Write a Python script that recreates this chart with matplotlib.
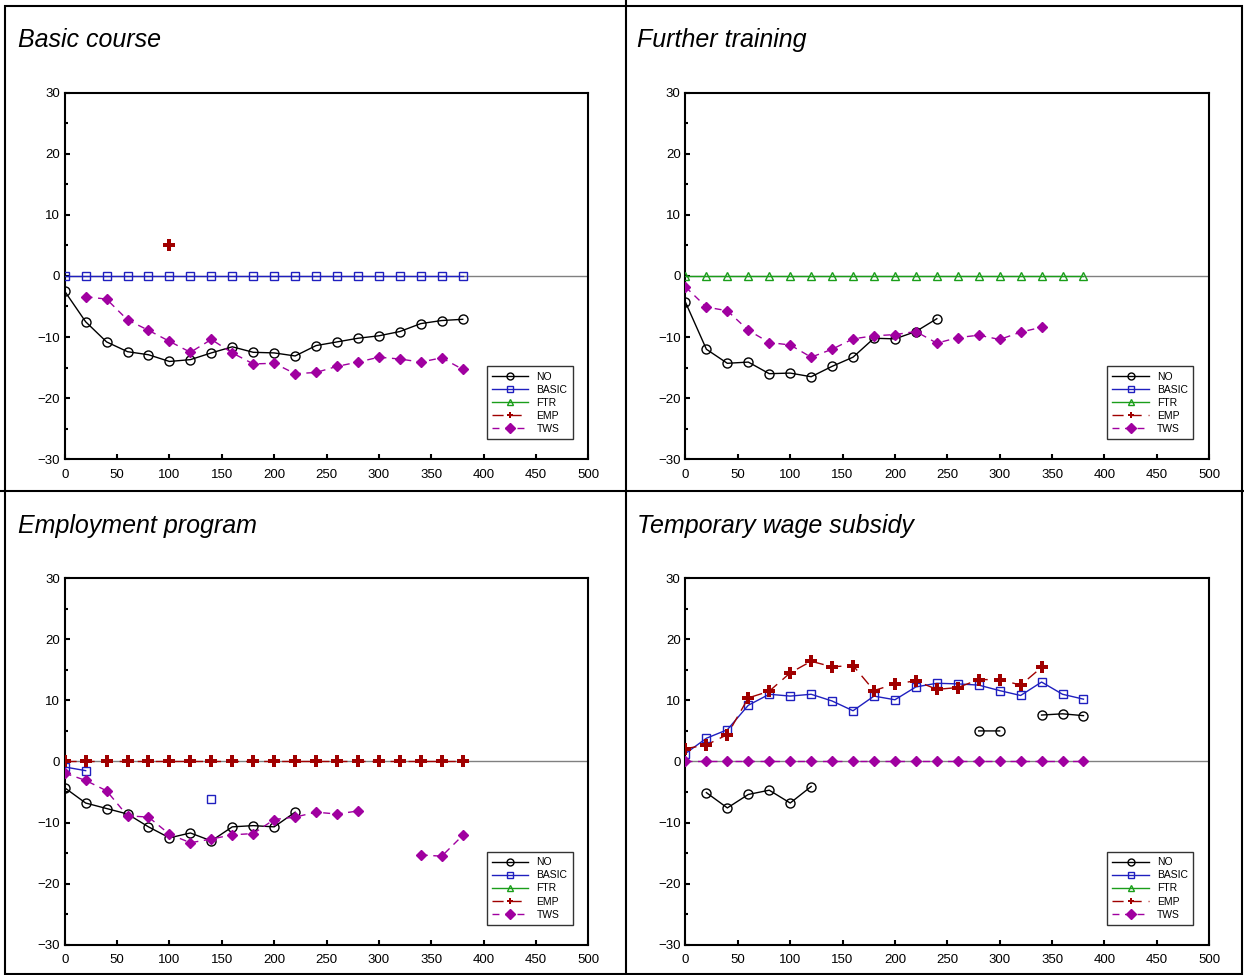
import matplotlib.pyplot as plt
import numpy as np
from matplotlib.lines import Line2D
from matplotlib.ticker import MultipleLocator

plt.rcParams['font.family'] = ['Liberation Sans', 'DejaVu Sans']

n = np.nan
x = np.arange(0, 400, 20)
titles = ['Basic course', 'Further training', 'Employment program', 'Temporary wage subsidy']
zeros = [0] * 20

basic_no = [-2.5, -7.5, -10.8, -12.4, -12.9, -14.0, -13.7, -12.6, -11.6, -12.5,
            -12.6, -13.1, -11.4, -10.8, -10.2, -9.8, -9.1, -7.8, -7.3, -7.1]
basic_tws = [n, -3.4, -3.8, -7.2, -8.9, -10.7, -12.5, -10.4, -12.6, -14.4,
             -14.3, -16.0, -15.8, -14.8, -14.1, -13.3, -13.6, -14.1, -13.4, -15.3]
basic_emp = [n, n, n, n, n, 5.0] + [n] * 14

ftr_no = [-4.3, -12.0, -14.3, -14.1, -16.0, -15.9, -16.5, -14.8, -13.3, -10.2,
          -10.3, -9.1, -7.0] + [n] * 7
ftr_tws = [-1.8, -5.1, -5.7, -8.9, -10.9, -11.3, -13.3, -12.0, -10.3, -9.8,
           -9.6, -9.1, -11.0, -10.1, -9.7, -10.4, -9.2, -8.4, n, n]

emp_no = [-4.3, -6.8, -7.7, -8.6, -10.7, -12.5, -11.7, -13.0, -10.7, -10.5,
          -10.7, -8.3] + [n] * 8
emp_basic = [-0.9, -1.5, n, n, n, n, n, -6.1] + [n] * 12
emp_tws = [-1.9, -3.1, -4.8, -8.9, -9.1, -11.9, -13.3, -12.7, -12.0, -11.8,
           -9.5, -9.1, -8.3, -8.6, -8.1, n, n, -15.3, -15.5, -12.1]

tws_no = [n, -5.1, -7.6, -5.4, -4.7, -6.8, -4.1, n, n, n,
          n, n, n, n, 5.0, 5.0, n, 7.6, 7.8, 7.5]
tws_basic = [1.3, 3.8, 5.2, 9.2, 11.0, 10.7, 11.0, 9.9, 8.3, 10.7,
             10.1, 12.2, 12.8, 12.7, 12.5, 11.6, 10.8, 13.0, 11.0, 10.2]
tws_emp = [2.1, 2.7, 4.4, 10.4, 11.5, 14.5, 16.4, 15.5, 15.7, 11.6,
           12.7, 13.2, 11.8, 12.1, 13.4, 13.4, 12.5, 15.4, n, n]

panels = [
    {'NO': basic_no, 'BASIC': zeros, 'EMP': basic_emp, 'TWS': basic_tws},
    {'NO': ftr_no, 'FTR': zeros, 'TWS': ftr_tws},
    {'NO': emp_no, 'BASIC': emp_basic, 'EMP': zeros, 'TWS': emp_tws},
    {'NO': tws_no, 'BASIC': tws_basic, 'EMP': tws_emp, 'TWS': zeros},
]

styles = {
    'NO': dict(color='black', marker='o', ls='-', mfc='none'),
    'BASIC': dict(color='#1f1fbf', marker='s', ls='-', mfc='none'),
    'FTR': dict(color='#1a9e1a', marker='^', ls='-', mfc='none'),
    'EMP': dict(color='#a00000', marker='P', ls=(0, (8, 5)), mfc='#a00000', mew=0),
    'TWS': dict(color='#a000a0', marker='D', ls=(0, (5, 4)), mfc='#a000a0'),
}
sizes = {'NO': 6.5, 'BASIC': 6, 'FTR': 6, 'EMP': 8, 'TWS': 5.5}

fig = plt.figure(figsize=(12.44, 9.75), dpi=100)
lefts = [0.052, 0.551]
bottoms = [0.529, 0.031]

for i, data in enumerate(panels):
    r, c = divmod(i, 2)
    ax = fig.add_axes([lefts[c], bottoms[r], 0.421, 0.376])
    ax.axhline(0, color='gray', lw=1, zorder=1)
    for k in ['NO', 'BASIC', 'FTR', 'EMP', 'TWS']:
        if k in data:
            ax.plot(x, data[k], ms=sizes[k], lw=1, zorder=3, **styles[k])
    ax.set_xlim(0, 500)
    ax.set_ylim(-30, 30)
    ax.xaxis.set_major_locator(MultipleLocator(50))
    ax.yaxis.set_major_locator(MultipleLocator(10))
    ax.yaxis.set_minor_locator(MultipleLocator(5))
    ax.tick_params(direction='in', labelsize=9.5, width=1.5)
    ax.tick_params(axis='x', pad=7)
    ax.tick_params(which='minor', direction='in', width=1.5)
    for s in ax.spines.values():
        s.set_linewidth(1.5)
    handles = [Line2D([], [], lw=1, ms=5, **styles[k]) for k in styles]
    leg = ax.legend(handles, list(styles), loc='lower right', bbox_to_anchor=(0.98, 0.04),
                    fontsize=7.5, fancybox=False, edgecolor='black', numpoints=1,
                    handlelength=3.5, borderpad=0.5, labelspacing=0.3)
    leg.get_frame().set_linewidth(1)
    fig.text(0.0145 + c * 0.4975, [0.959, 0.460][r], titles[i], fontsize=18,
             style='italic', va='center')

fig.add_artist(Line2D([0.503, 0.503], [0, 1], color='black', lw=1.5))
fig.add_artist(Line2D([0, 1], [0.496, 0.496], color='black', lw=1.5))
fig.add_artist(plt.Rectangle((0.004, 0.001), 0.994, 0.993, fill=False, ec='black', lw=1.5,
                             transform=fig.transFigure))
fig.savefig('out.png')
